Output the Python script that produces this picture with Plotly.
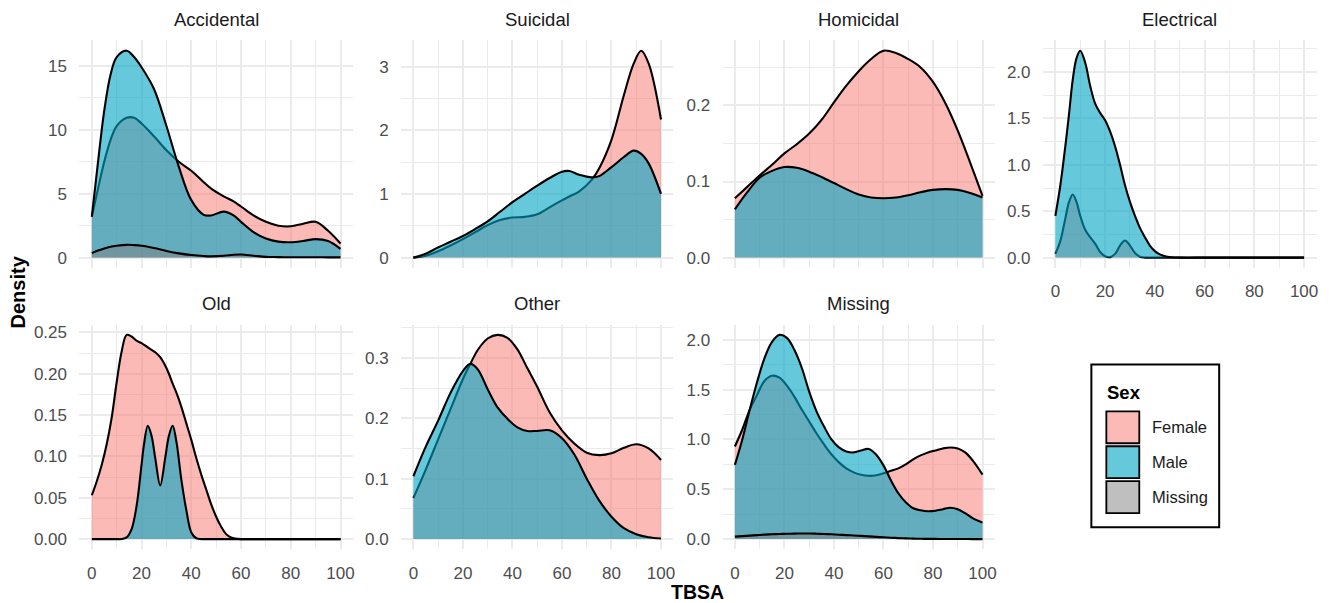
import plotly.graph_objects as go

# ---------------- data ----------------
panel_names = ["Accidental", "Suicidal", "Homicidal", "Electrical", "Old", "Other", "Missing"]
group_names = ["Female", "Male", "Missing"]
x_ticks = [0, 20, 40, 60, 80, 100]

acc_x = [0, 2.5, 5, 7.5, 10, 14, 17, 20, 25, 30, 35, 40, 45, 48, 53, 57, 60, 65, 70, 75, 80, 85, 90, 95, 100]
acc_female = [3.2, 5.4, 7.5, 9.2, 10.3, 10.95, 10.95, 10.5, 9.5, 8.4, 7.5, 6.8, 5.9, 5.4, 4.8, 4.4, 4.0, 3.3, 2.8, 2.5, 2.45, 2.65, 2.8, 2.1, 1.1]
acc_male = [3.2, 7.5, 11.5, 14.3, 15.7, 16.2, 15.7, 14.9, 13.2, 10.3, 7.1, 4.5, 3.35, 3.3, 3.6, 3.3, 2.8, 2.0, 1.5, 1.25, 1.2, 1.3, 1.45, 1.3, 0.68]
acc_missing = [0.35, 0.55, 0.72, 0.85, 0.93, 1.0, 0.98, 0.93, 0.75, 0.52, 0.33, 0.2, 0.12, 0.1, 0.14, 0.22, 0.24, 0.15, 0.06, 0.04, 0.03, 0.03, 0.03, 0.02, 0.02]

sui_x = [0, 5, 10, 15, 20, 25, 30, 35, 40, 45, 50, 55, 60, 63, 67, 72, 75, 80, 85, 89, 92, 95, 100]
sui_female = [0, 0.03, 0.1, 0.19, 0.29, 0.4, 0.51, 0.59, 0.63, 0.64, 0.68, 0.79, 0.9, 0.96, 1.04, 1.22, 1.4, 1.85, 2.55, 3.05, 3.25, 3.05, 2.17]
sui_male = [0, 0.06, 0.16, 0.25, 0.34, 0.45, 0.57, 0.72, 0.87, 1.0, 1.13, 1.25, 1.35, 1.36, 1.3, 1.26, 1.28, 1.42, 1.58, 1.68, 1.63, 1.48, 1.0]

hom_x = [0, 5, 10, 15, 20, 25, 30, 35, 40, 45, 50, 55, 60, 65, 70, 75, 80, 85, 90, 95, 100]
hom_female = [0.078, 0.093, 0.108, 0.122, 0.137, 0.149, 0.163, 0.181, 0.204, 0.226, 0.245, 0.261, 0.272, 0.269, 0.261, 0.25, 0.231, 0.203, 0.167, 0.125, 0.081]
hom_male = [0.0635, 0.086, 0.105, 0.114, 0.119, 0.118, 0.113, 0.106, 0.098, 0.090, 0.083, 0.079, 0.078, 0.079, 0.082, 0.086, 0.089, 0.090, 0.089, 0.085, 0.079]

ele_x = [0, 2, 4, 5.5, 7, 8.5, 10, 12, 14, 16, 18, 20, 22, 24, 26, 28, 30, 32, 34, 36, 38, 40, 42, 45, 50, 60, 70, 80, 90, 100]
ele_female = [0.04, 0.18, 0.42, 0.6, 0.68, 0.6, 0.45, 0.3, 0.22, 0.15, 0.06, 0.015, 0.005, 0.04, 0.13, 0.185, 0.13, 0.05, 0.01, 0, 0, 0, 0, 0, 0, 0, 0, 0, 0, 0]
ele_male = [0.45, 0.78, 1.2, 1.55, 1.92, 2.15, 2.23, 2.1, 1.85, 1.66, 1.56, 1.48, 1.36, 1.2, 1.0, 0.78, 0.6, 0.45, 0.32, 0.22, 0.13, 0.07, 0.035, 0.01, 0, 0, 0, 0, 0, 0]

old_x = [0, 2, 4, 6, 8, 10, 12, 14, 16, 18, 20, 21, 22.5, 24, 25.5, 27.5, 29.5, 31, 32.5, 34, 36, 38, 40, 42, 44, 46, 48, 50, 52, 54, 56, 60, 70, 80, 90, 100]
old_female = [0.053, 0.07, 0.09, 0.115, 0.147, 0.19, 0.227, 0.247, 0.245, 0.24, 0.237, 0.235, 0.232, 0.229, 0.226, 0.22, 0.21, 0.2, 0.188, 0.177, 0.16, 0.14, 0.12, 0.098, 0.078, 0.06, 0.042, 0.027, 0.015, 0.006, 0.002, 0, 0, 0, 0, 0]
old_male = [0, 0, 0, 0, 0, 0, 0, 0.002, 0.012, 0.04, 0.09, 0.115, 0.137, 0.125, 0.098, 0.065, 0.098, 0.125, 0.137, 0.118, 0.072, 0.035, 0.008, 0.001, 0, 0, 0, 0, 0, 0, 0, 0, 0, 0, 0, 0]

oth_x = [0, 5, 10, 15, 20, 23, 26, 30, 34, 38, 42, 46, 50, 55, 60, 65, 70, 75, 80, 85, 90, 95, 100]
oth_female = [0.068, 0.115, 0.165, 0.215, 0.265, 0.29, 0.313, 0.332, 0.338, 0.333, 0.314, 0.283, 0.252, 0.21, 0.18, 0.158, 0.143, 0.139, 0.142, 0.151, 0.157, 0.15, 0.131]
oth_male = [0.104, 0.153, 0.196, 0.242, 0.278, 0.29, 0.281, 0.248, 0.218, 0.199, 0.185, 0.179, 0.179, 0.18, 0.167, 0.14, 0.1, 0.064, 0.037, 0.018, 0.008, 0.003, 0.001]

mis_x = [0, 3, 6, 9, 12, 15, 18, 21, 24, 27, 30, 33, 36, 39, 42, 45, 48, 51, 54, 57, 60, 63, 66, 69, 72, 75, 78, 81, 84, 87, 90, 93, 96, 100]
mis_female = [0.93, 1.1, 1.3, 1.45, 1.59, 1.64, 1.62, 1.54, 1.43, 1.3, 1.18, 1.06, 0.95, 0.85, 0.77, 0.71, 0.67, 0.645, 0.635, 0.64, 0.66, 0.685, 0.71, 0.75, 0.8, 0.84, 0.87, 0.89, 0.91, 0.92, 0.91, 0.87, 0.79, 0.647]
mis_male = [0.745, 1.0, 1.3, 1.58, 1.82, 1.98, 2.05, 2.02, 1.9, 1.72, 1.48, 1.28, 1.13, 1.0, 0.92, 0.88, 0.87, 0.89, 0.905, 0.85, 0.74, 0.59, 0.46, 0.37, 0.31, 0.29, 0.28, 0.285, 0.3, 0.315, 0.3, 0.26, 0.21, 0.165]
mis_missing = [0.025, 0.03, 0.035, 0.04, 0.045, 0.048, 0.051, 0.053, 0.055, 0.056, 0.056, 0.054, 0.051, 0.048, 0.044, 0.04, 0.036, 0.032, 0.027, 0.022, 0.018, 0.014, 0.01, 0.007, 0.005, 0.003, 0.002, 0.002, 0.001, 0.001, 0.001, 0.001, 0, 0]

panel_series = [
    (acc_x, [acc_female, acc_male, acc_missing]),
    (sui_x, [sui_female, sui_male, None]),
    (hom_x, [hom_female, hom_male, None]),
    (ele_x, [ele_female, ele_male, None]),
    (old_x, [old_female, old_male, None]),
    (oth_x, [oth_female, oth_male, None]),
    (mis_x, [mis_female, mis_male, mis_missing]),
]
y_dticks = [5, 1, 0.1, 0.5, 0.05, 0.1, 0.5]
y_formats = ["d", "d", ".1f", ".1f", ".2f", ".1f", ".1f"]

# ---------------- style ----------------
W, H = 1333, 603
FILLS = ["rgba(248,118,109,0.5)", "rgba(0,165,195,0.6)", "rgba(127,127,127,0.5)"]
FONT = "Liberation Sans, Arial, sans-serif"
GRID = "#EBEBEB"

col_px = [(79.5, 353.5), (401.6, 674.4), (723.6, 996.4), (1044.5, 1318.5)]
row_px = [(39.4, 267.4), (324.2, 549.2)]
positions = [(0, 0), (0, 1), (0, 2), (0, 3), (1, 0), (1, 1), (1, 2)]
show_xlabels = [False, False, False, True, True, True, True]


def px_x(p):
    return p / W


def px_y(p):
    return 1 - p / H


fig = go.Figure()
layout = dict(
    width=W, height=H, margin=dict(l=0, r=0, t=0, b=0),
    paper_bgcolor="white", plot_bgcolor="white", showlegend=False,
    font=dict(family=FONT), annotations=[], shapes=[],
)

for i, (name, (xs, ys)) in enumerate(zip(panel_names, panel_series)):
    r, c = positions[i]
    k = "" if i == 0 else str(i + 1)
    for g, yv in enumerate(ys):
        if yv is None:
            continue
        fig.add_trace(go.Scatter(
            x=xs, y=yv, mode="lines", name=group_names[g],
            line=dict(color="black", width=2.1, shape="spline", smoothing=1.0),
            fill="tozeroy", fillcolor=FILLS[g],
            xaxis="x" + k, yaxis="y" + k, hoverinfo="skip",
        ))
    ymax = max(max(v) for v in ys if v is not None)
    x0, x1 = col_px[c]
    y0, y1 = row_px[r]
    layout["xaxis" + k] = dict(
        domain=[px_x(x0), px_x(x1)], anchor="y" + k, range=[-5, 105],
        tickmode="array", tickvals=x_ticks, showticklabels=show_xlabels[i],
        ticks="outside", ticklen=8, tickcolor="rgba(0,0,0,0)",
        tickfont=dict(size=17, color="#4D4D4D", family=FONT),
        showgrid=True, gridcolor=GRID, gridwidth=1.9, zeroline=False, showline=False,
        minor=dict(tickmode="array", tickvals=[10, 30, 50, 70, 90], showgrid=True, gridcolor=GRID, gridwidth=1.1),
    )
    dt = y_dticks[i]
    layout["yaxis" + k] = dict(
        domain=[px_y(y1), px_y(y0)], anchor="x" + k,
        range=[-0.05 * ymax, 1.05 * ymax],
        tick0=0, dtick=dt, tickformat=y_formats[i],
        ticks="outside", ticklen=8, tickcolor="rgba(0,0,0,0)",
        tickfont=dict(size=17, color="#4D4D4D", family=FONT),
        showgrid=True, gridcolor=GRID, gridwidth=1.9, zeroline=False, showline=False,
        minor=dict(tick0=dt / 2, dtick=dt, showgrid=True, gridcolor=GRID, gridwidth=1.1),
    )
    # strip title
    layout["annotations"].append(dict(
        text=name, x=px_x((x0 + x1) / 2), y=px_y(19 if r == 0 else 303),
        xref="paper", yref="paper", showarrow=False, xanchor="center", yanchor="middle",
        font=dict(size=18.5, color="#1A1A1A", family=FONT),
    ))

# axis titles
layout["annotations"].append(dict(
    text="<b>Density</b>", x=px_x(18), y=px_y(291), xref="paper", yref="paper",
    showarrow=False, textangle=-90, xanchor="center", yanchor="middle",
    font=dict(size=20, color="black", family=FONT),
))
layout["annotations"].append(dict(
    text="<b>TBSA</b>", x=px_x(699), y=px_y(592), xref="paper", yref="paper",
    showarrow=False, xanchor="center", yanchor="middle",
    font=dict(size=19.5, color="black", family=FONT),
))

# legend (drawn)
layout["shapes"].append(dict(type="rect", xref="paper", yref="paper",
                             x0=px_x(1093), x1=px_x(1221), y0=px_y(527), y1=px_y(364),
                             line=dict(color="black", width=2), fillcolor="white", layer="above"))
layout["annotations"].append(dict(
    text="<b>Sex</b>", x=px_x(1107), y=px_y(392), xref="paper", yref="paper",
    showarrow=False, xanchor="left", yanchor="middle", font=dict(size=18.5, color="black", family=FONT),
))
key_tops = [411, 446, 481]
for g, top in enumerate(key_tops):
    layout["shapes"].append(dict(type="rect", xref="paper", yref="paper",
                                 x0=px_x(1108), x1=px_x(1141), y0=px_y(top + 32), y1=px_y(top),
                                 line=dict(color="black", width=1.8), fillcolor=FILLS[g], layer="above"))
    layout["annotations"].append(dict(
        text=group_names[g], x=px_x(1152), y=px_y(top + 16), xref="paper", yref="paper",
        showarrow=False, xanchor="left", yanchor="middle", font=dict(size=16.5, color="#1A1A1A", family=FONT),
    ))

fig.update_layout(**layout)
fig.write_html("out.html")
